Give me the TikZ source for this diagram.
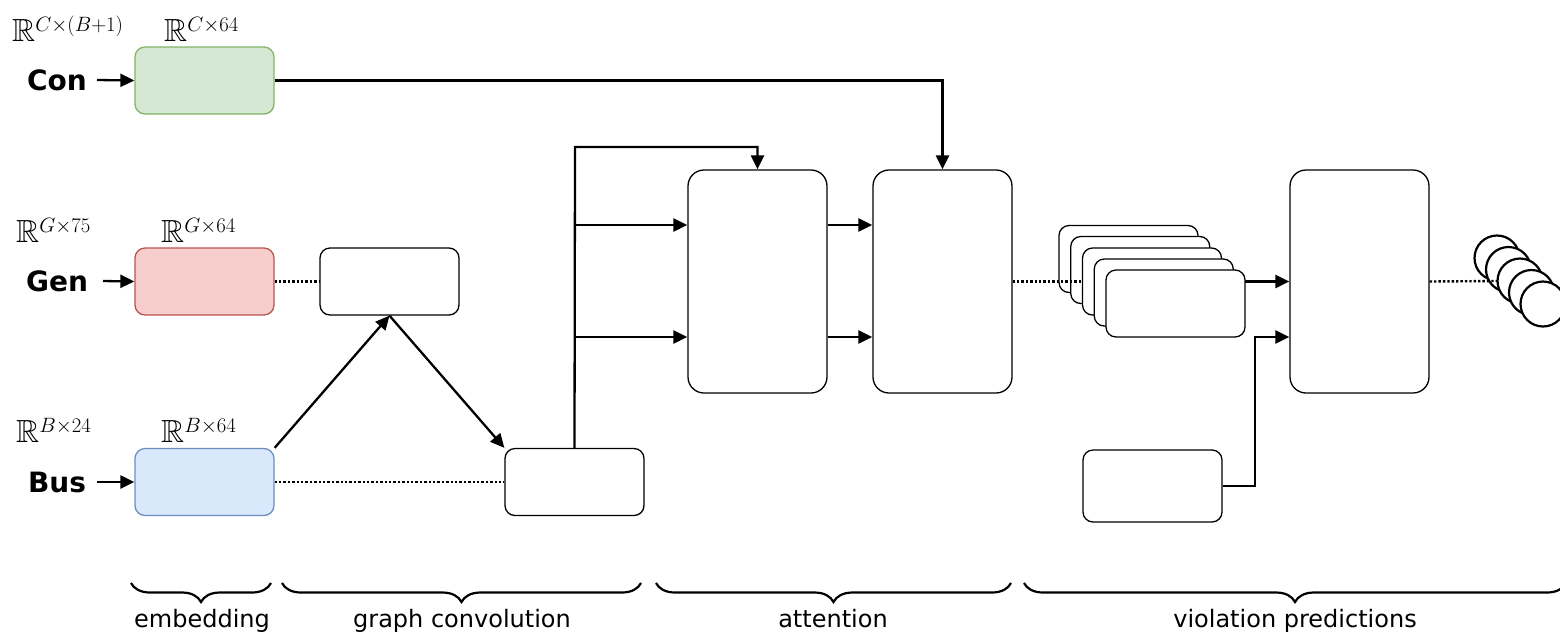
\documentclass[tikz,border=0pt]{standalone}
\usepackage[no-math]{fontspec}
\setmainfont{DejaVu Sans}
\usepackage{amsmath,amssymb}
\usetikzlibrary{arrows.meta,decorations.pathreplacing}

\definecolor{embG}{HTML}{D5E8D4}\definecolor{embGd}{HTML}{82B366}
\definecolor{embR}{HTML}{F8CECC}\definecolor{embRd}{HTML}{B85450}
\definecolor{embB}{HTML}{DAE8FC}\definecolor{embBd}{HTML}{6C8EBF}

\tikzset{
  box/.style={draw, line width=1.3pt, fill=white, rounded corners=10pt,
    minimum width=139pt, minimum height=67pt, inner sep=0pt},
  tall/.style={box, rounded corners=16pt, minimum height=223pt},
  arr/.style={line width=2.3pt, -{Triangle[length=14pt,width=13pt]}},
  dots/.style={line width=2.4pt, dotted},
  dim/.style={inner sep=0pt, anchor=base west, font=\fontsize{32}{38}\selectfont},
  inlabel/.style={inner sep=0pt, anchor=base, font=\bfseries\fontsize{28}{33}\selectfont},
  grp/.style={line width=2.2pt, decorate, decoration={brace, mirror, amplitude=19pt}},
  grplabel/.style={inner sep=0pt, anchor=base, font=\fontsize{24}{29}\selectfont},
  outcirc/.style={draw, circle, line width=2.2pt, fill=white, minimum size=45pt, inner sep=0pt}
}

\begin{document}
\begin{tikzpicture}[x=1pt, y=-1pt]
\clip (0,0) rectangle (1560,633);

% dimension labels
\node[dim] (dc0) at (12,41) {$\mathbb{R}^{C\times(B+1)}$};
\node[dim] (dc1) at (164,41) {$\mathbb{R}^{C\times64}$};
\node[dim] (dg0) at (16,242) {$\mathbb{R}^{G\times75}$};
\node[dim] (dg1) at (161,242) {$\mathbb{R}^{G\times64}$};
\node[dim] (db0) at (16,442) {$\mathbb{R}^{B\times24}$};
\node[dim] (db1) at (161,442) {$\mathbb{R}^{B\times64}$};

% inputs
\node[inlabel] (con) at (57,90) {Con};
\node[inlabel] (gen) at (57,291) {Gen};
\node[inlabel] (bus) at (57,492) {Bus};

% embeddings
\node[box, fill=embG, draw=embGd] (ec) at (204.5,80.5) {};
\node[box, fill=embR, draw=embRd] (eg) at (204.5,281.5) {};
\node[box, fill=embB, draw=embBd] (eb) at (204.5,482) {};

\coordinate (conE) at (97,80);
\coordinate (genE) at (103,281);
\coordinate (busE) at (97,482);
\draw[arr] (conE) -- (ec.west);
\draw[arr] (genE) -- (eg.west);
\draw[arr] (busE) -- (eb.west);

% graph convolution
\node[box] (gc1) at (389.5,281.5) {};
\node[box] (gc2) at (574.5,482) {};
\draw[dots] (eg.east) -- (gc1.west);
\draw[dots] (eb.east) -- (gc2.west);
\draw[arr] (eb.north east) -- (gc1.south);
\draw[arr] (gc1.south) -- (gc2.north west);

% attention
\node[tall] (at1) at (757.5,281.5) {};
\node[tall] (at2) at (942.5,281.5) {};
\coordinate (loop) at (575,147);
\draw[arr] (gc2.north) -- (loop) -| (at1.north);
\draw[arr] (575,225) -- (at1.west |- 0,225);
\draw[arr] (575,337) -- (at1.west |- 0,337);
\draw[arr] (at1.east |- 0,225) -- (at2.west |- 0,225);
\draw[arr] (at1.east |- 0,337) -- (at2.west |- 0,337);
\draw[arr] (ec.east) -| (at2.north);

% violation predictions: stacked heads, layered back to front
\node[tall] (vp) at (1359.5,281.5) {};
\node[box, minimum height=72pt] (side) at (1152.5,486) {};
\coordinate (stackin) at (1082.5,281.5);
\node[box] (s1) at (1128.5,259) {};
\node[box] (s2) at (1140.25,270) {};
\draw[dots] (at2.east) -- (stackin);
\node[box] (s3) at (1152,281.5) {};
\draw[arr] (s3.east) -- (vp.west |- s3.east);
\node[box] (s4) at (1163.75,292.5) {};
\node[box] (s5) at (1175.5,303.5) {};
\draw[arr] (side.east) -- (1255,486) |- (vp.west |- 0,337);

% output units
\coordinate (outin) at (1497,281);
\node[outcirc] (c1) at (1497,258) {};
\node[outcirc] (c2) at (1508.5,269.5) {};
\draw[dots] (vp.east) -- (outin);
\node[outcirc] (c3) at (1520,281) {};
\node[outcirc] (c4) at (1531.5,292.5) {};
\node[outcirc] (c5) at (1543,304) {};

% stage braces
\draw[grp] (131,583) -- (271,583);
\draw[grp] (282,583) -- (641,583);
\draw[grp] (656,583) -- (1011,583);
\draw[grp] (1024,583) -- (1566,583);
\node[grplabel] (l1) at (202,627) {embedding};
\node[grplabel] (l2) at (462,627) {graph convolution};
\node[grplabel] (l3) at (833,627) {attention};
\node[grplabel] (l4) at (1295,627) {violation predictions};
\end{tikzpicture}
\end{document}
